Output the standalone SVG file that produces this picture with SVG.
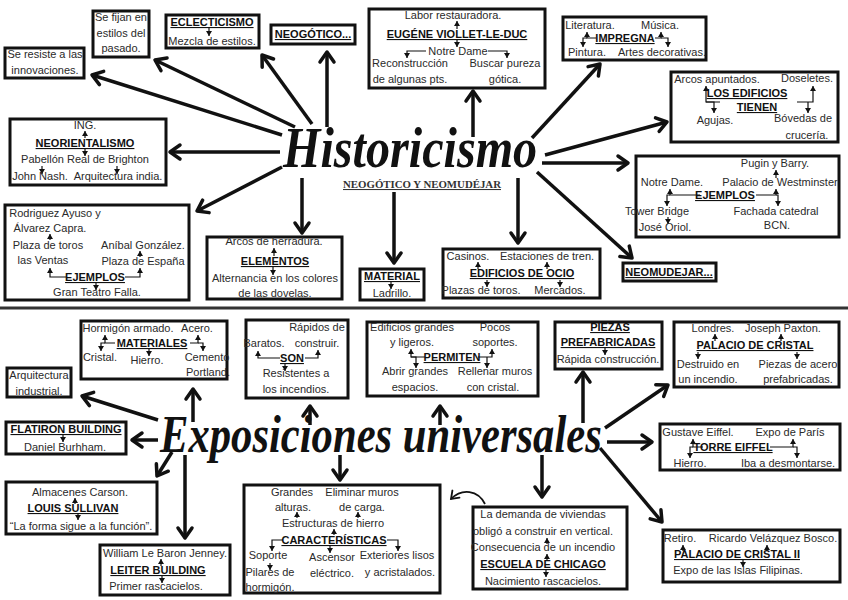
<svg xmlns="http://www.w3.org/2000/svg" width="848" height="600" viewBox="0 0 848 600">
<style>
.box{fill:#fff;stroke:#111;stroke-width:3}
.t{font-family:"Liberation Sans",Arial,sans-serif;font-size:11px;fill:#2a2a2a;text-anchor:middle}
.h{font-weight:bold;text-decoration:underline;fill:#111}
.c{stroke:#111;stroke-width:3.5;fill:none;marker-end:url(#ah)}
.s{stroke:#111;stroke-width:1.2;fill:none;marker-end:url(#sa)}
.title{font-family:"Liberation Serif","DejaVu Serif",serif;font-style:italic;font-weight:bold;fill:#111;text-anchor:start}
</style>
<defs>
<marker id="ah" markerUnits="userSpaceOnUse" viewBox="-14 -10 18 20" refX="0" refY="0" markerWidth="18" markerHeight="20" orient="auto"><path d="M-10,-7 L0,0 L-10,7" fill="none" stroke="#111" stroke-width="3.5" stroke-linecap="round" stroke-linejoin="round"/></marker>
<marker id="sa" markerUnits="userSpaceOnUse" viewBox="-6 -4 7 8" refX="0" refY="0" markerWidth="7" markerHeight="8" orient="auto"><path d="M-5,-3 L0,0 L-5,3z" fill="#111"/></marker>
<marker id="ac" markerUnits="userSpaceOnUse" viewBox="-10 -8 12 16" refX="0" refY="0" markerWidth="12" markerHeight="16" orient="auto"><path d="M-7,-5 L0,0 L-7,5" fill="none" stroke="#111" stroke-width="1.8" stroke-linecap="round"/></marker>
</defs>
<rect width="848" height="600" fill="#fff"/>
<line x1="0" y1="308" x2="848" y2="308" stroke="#333" stroke-width="3"/>

<g id="connectors">
<path class="c" d="M282,135 L92,75"/>
<path class="c" d="M295,127 L155,60"/>
<path class="c" d="M312,124 L262,55"/>
<path class="c" d="M327,127 L327,52"/>
<path class="c" d="M473,137 L473,91"/>
<path class="c" d="M532,138 L600,64"/>
<path class="c" d="M545,155 L667,122"/>
<path class="c" d="M542,163 L628,163"/>
<path class="c" d="M537,172 L632,258"/>
<path class="c" d="M518,178 L518,243"/>
<path class="c" d="M394,192 L394,263"/>
<path class="c" d="M302,178 L302,233"/>
<path class="c" d="M282,167 L197,211"/>
<path class="c" d="M280,152 L170,152"/>

<path class="c" d="M158,420 L82,396"/>
<path class="c" d="M193,422 L193,389"/>
<path class="c" d="M310,425 L310,406"/>
<path class="c" d="M440,425 L440,406"/>
<path class="c" d="M583,423 L583,372"/>
<path class="c" d="M605,428 L668,385"/>
<path class="c" d="M607,442 L652,442"/>
<path class="c" d="M158,440 L132,440"/>
<path class="c" d="M172,452 L157,476"/>
<path class="c" d="M185,455 L185,538"/>
<path class="c" d="M340,455 L340,480"/>
<path class="c" d="M542,455 L542,497"/>
<path class="c" d="M600,448 L662,522"/>
<path d="M485,504 C478,490 462,488 451,499" fill="none" stroke="#111" stroke-width="1.8" marker-end="url(#ac)"/>
</g>

<g id="title-historicismo">
<text class="title" transform="translate(283,167) scale(0.86,1)" x="0" y="0" font-size="56">Historicismo</text>
<text x="422" y="188" font-family="'Liberation Serif',serif" font-weight="bold" font-size="10.5" text-anchor="middle" text-decoration="underline" fill="#333" textLength="158" lengthAdjust="spacingAndGlyphs">NEOGÓTICO Y NEOMUDÉJAR</text>
</g>

<g id="n-resiste"><rect class="box" x="5" y="48" width="79" height="30"/><text class="t" x="45" y="58">Se resiste a las</text><text class="t" x="45" y="74">innovaciones.</text></g>

<g id="n-fijan"><rect class="box" x="93" y="11" width="56" height="46"/><text class="t" x="121" y="21">Se fijan en</text><text class="t" x="121" y="37">estilos del</text><text class="t" x="121" y="52">pasado.</text></g>

<g id="n-eclecticismo"><rect class="box" x="166" y="15" width="93" height="33"/><text class="t h" x="212" y="26">ECLECTICISMO</text><path class="s" d="M209,28 V36"/><text class="t" x="212" y="45">Mezcla de estilos.</text></g>

<g id="n-neogotico"><rect class="box" x="271" y="25" width="84" height="19"/><text class="t h" x="313" y="38">NEOGÓTICO...</text></g>

<g id="n-viollet"><rect class="box" x="369" y="9" width="176" height="79"/>
<text class="t" x="453" y="19">Labor restauradora.</text>
<path class="s" d="M457,29 V21"/>
<text class="t h" x="457" y="38">EUGÉNE VIOLLET-LE-DUC</text>
<path class="s" d="M457,40 V47"/>
<text class="t" x="458" y="55">Notre Dame</text>
<path class="s" d="M426,51 H407 V58"/>
<path class="s" d="M488,51 H507 V58"/>
<text class="t" x="410" y="67">Reconstrucción</text><text class="t" x="410" y="83">de algunas pts.</text>
<text class="t" x="505" y="67">Buscar pureza</text><text class="t" x="505" y="83">gótica.</text>
</g>

<g id="n-impregna"><rect class="box" x="563" y="17" width="143" height="43"/>
<text class="t" x="590" y="29">Literatura.</text><text class="t" x="660" y="29">Música.</text>
<text class="t h" x="625" y="42">IMPREGNA</text>
<path class="s" d="M596,38 H587 V32"/><path class="s" d="M587,38 H583 V47"/>
<path class="s" d="M655,38 H661 V32"/><path class="s" d="M661,38 H668 V47"/>
<text class="t" x="587" y="56">Pintura.</text><text class="t" x="662" y="56">Artes decorativas.</text>
</g>

<g id="n-edificios"><rect class="box" x="671" y="72" width="167" height="70"/>
<text class="t" x="717" y="83">Arcos apuntados.</text><text class="t" x="807" y="82">Doseletes.</text>
<text class="t h" x="747" y="97">LOS EDIFICIOS</text>
<text class="t h" x="757" y="111">TIENEN</text>
<path class="s" d="M720,102 H706 V86"/><path class="s" d="M706,102 H714 V113"/>
<path class="s" d="M797,102 H813 V86"/><path class="s" d="M808,102 V113"/>
<text class="t" x="715" y="124">Agujas.</text><text class="t" x="803" y="122">Bóvedas de</text><text class="t" x="807" y="139">crucería.</text>
</g>

<g id="n-ejemplos-r"><rect class="box" x="636" y="156" width="203" height="81"/>
<text class="t" x="775" y="167">Pugin y Barry.</text>
<path class="s" d="M776,178 V170"/>
<text class="t" x="672" y="186">Notre Dame.</text><text class="t" x="780" y="186">Palacio de Westminster</text>
<text class="t h" x="725" y="199">EJEMPLOS</text>
<path class="s" d="M700,195 H670 V189"/><path class="s" d="M670,195 H667 V206"/>
<path class="s" d="M756,195 H776 V189"/><path class="s" d="M776,195 H778 V206"/>
<text class="t" x="657" y="215">Tower Bridge</text><text class="t" x="776" y="215">Fachada catedral</text>
<path class="s" d="M668,217 V224"/>
<text class="t" x="665" y="231">José Oriol.</text><text class="t" x="777" y="229">BCN.</text>
</g>

<g id="n-neomudejar"><rect class="box" x="623" y="263" width="93" height="18"/><text class="t h" x="669" y="276">NEOMUDEJAR...</text></g>

<g id="n-ocio"><rect class="box" x="443" y="249" width="157" height="49"/>
<text class="t" x="468" y="260">Casinos.</text><text class="t" x="547" y="260">Estaciones de tren.</text>
<path class="s" d="M478,269 V262"/><path class="s" d="M547,269 V262"/>
<text class="t h" x="522" y="277">EDIFICIOS DE OCIO</text>
<path class="s" d="M487,280 V287"/><path class="s" d="M560,280 V287"/>
<text class="t" x="481" y="294">Plazas de toros.</text><text class="t" x="560" y="294">Mercados.</text>
</g>

<g id="n-material"><rect class="box" x="360" y="269" width="64" height="31"/>
<text class="t h" x="392" y="280">MATERIAL</text><path class="s" d="M391,282 V289"/><text class="t" x="392" y="297">Ladrillo.</text></g>

<g id="n-elementos"><rect class="box" x="207" y="237" width="135" height="62"/>
<text class="t" x="274" y="245">Arcos de herradura.</text>
<path class="s" d="M274,256 V248"/>
<text class="t h" x="275" y="265">ELEMENTOS</text>
<path class="s" d="M273,267 V275"/>
<text class="t" x="275" y="282">Alternancia en los colores</text>
<text class="t" x="275" y="297">de las dovelas.</text>
</g>

<g id="n-ejemplos-l"><rect class="box" x="5" y="205" width="184" height="95"/>
<text class="t" x="55" y="217">Rodriguez Ayuso y</text>
<text class="t" x="50" y="232">Álvarez Capra.</text>
<path class="s" d="M50,240 V234"/>
<text class="t" x="48" y="249">Plaza de toros</text><text class="t" x="143" y="249">Aníbal González.</text>
<path class="s" d="M140,257 V251"/>
<text class="t" x="43" y="264">las Ventas</text><text class="t" x="143" y="265">Plaza de España</text>
<path class="s" d="M66,277 H50 V268"/><path class="s" d="M125,277 H140 V268"/>
<text class="t h" x="95" y="281">EJEMPLOS</text>
<path class="s" d="M96,282 V290"/>
<text class="t" x="97" y="296">Gran Teatro Falla.</text>
</g>

<g id="n-neorientalismo"><rect class="box" x="10" y="119" width="156" height="66"/>
<text class="t" x="85" y="129">ING.</text>
<path class="s" d="M85,138 V131"/>
<text class="t h" x="85" y="147">NEORIENTALISMO</text>
<path class="s" d="M85,148 V156"/>
<text class="t" x="85" y="163">Pabellón Real de Brighton</text>
<path class="s" d="M42,166 V174"/><path class="s" d="M117,166 V174"/>
<text class="t" x="40" y="180">John Nash.</text><text class="t" x="118" y="180">Arquitectura india.</text>
</g>

<g id="title-exposiciones">
<text class="title" transform="translate(160,452) scale(0.82,1)" x="0" y="0" font-size="52">Exposiciones universales</text>
</g>

<g id="n-arquitectura"><rect class="box" x="7" y="368" width="64" height="29"/><text class="t" x="39" y="379">Arquitectura</text><text class="t" x="39" y="395">industrial.</text></g>

<g id="n-materiales"><rect class="box" x="81" y="321" width="146" height="58"/>
<text class="t" x="128" y="332">Hormigón armado.</text><text class="t" x="197" y="332">Acero.</text>
<text class="t h" x="152" y="347">MATERIALES</text>
<path class="s" d="M115,343 H105 V335"/><path class="s" d="M105,343 H101 V351"/>
<path class="s" d="M190,343 H198 V335"/><path class="s" d="M198,343 H203 V351"/>
<path class="s" d="M149,349 V356"/>
<text class="t" x="100" y="361">Cristal.</text><text class="t" x="147" y="364">Hierro.</text><text class="t" x="207" y="361">Cemento</text><text class="t" x="208" y="376">Portland.</text>
</g>

<g id="n-son"><rect class="box" x="246" y="320" width="102" height="78"/>
<text class="t" x="317" y="331">Rápidos de</text>
<text class="t" x="264" y="347">Baratos.</text><text class="t" x="317" y="347">construir.</text>
<text class="t h" x="292" y="362">SON</text>
<path class="s" d="M280,358 H258 V351"/><path class="s" d="M305,358 H318 V350"/>
<path class="s" d="M285,364 V371"/>
<text class="t" x="296" y="377">Resistentes a</text>
<text class="t" x="296" y="393">los incendios.</text>
</g>

<g id="n-permiten"><rect class="box" x="367" y="322" width="171" height="74"/>
<text class="t" x="412" y="331">Edificios grandes</text><text class="t" x="495" y="331">Pocos</text>
<text class="t" x="412" y="346">y ligeros.</text><text class="t" x="495" y="346">soportes.</text>
<text class="t h" x="452" y="361">PERMITEN</text>
<path class="s" d="M425,357 H411 V349"/><path class="s" d="M411,357 H416 V368"/>
<path class="s" d="M478,357 H492 V349"/><path class="s" d="M487,357 V368"/>
<text class="t" x="415" y="375">Abrir grandes</text><text class="t" x="495" y="375">Rellenar muros</text>
<text class="t" x="415" y="391">espacios.</text><text class="t" x="493" y="391">con cristal.</text>
</g>

<g id="n-piezas"><rect class="box" x="555" y="322" width="107" height="47"/>
<text class="t h" x="610" y="331">PIEZAS</text>
<text class="t h" x="608" y="346">PREFABRICADAS</text>
<path class="s" d="M605,348 V355"/>
<text class="t" x="608" y="363">Rápida construcción.</text>
</g>

<g id="n-palacio"><rect class="box" x="674" y="322" width="165" height="65"/>
<text class="t" x="713" y="332">Londres.</text><text class="t" x="783" y="332">Joseph Paxton.</text>
<path class="s" d="M715,341 V334"/><path class="s" d="M781,341 V334"/>
<text class="t h" x="755" y="349">PALACIO DE CRISTAL</text>
<path class="s" d="M698,352 V359"/><path class="s" d="M797,352 V359"/>
<text class="t" x="708" y="368">Destruido en</text><text class="t" x="798" y="368">Piezas de acero</text>
<text class="t" x="708" y="383">un incendio.</text><text class="t" x="798" y="383">prefabricadas.</text>
</g>

<g id="n-eiffel"><rect class="box" x="660" y="424" width="180" height="46"/>
<text class="t" x="698" y="436">Gustave Eiffel.</text><text class="t" x="790" y="436">Expo de París</text>
<text class="t h" x="733" y="451">TORRE EIFFEL</text>
<path class="s" d="M703,447 H693 V439"/><path class="s" d="M693,447 H690 V458"/>
<path class="s" d="M770,447 H793 V439"/><path class="s" d="M793,447 H797 V458"/>
<text class="t" x="690" y="467">Hierro.</text><text class="t" x="788" y="467">Iba a desmontarse.</text>
</g>

<g id="n-flatiron"><rect class="box" x="6" y="422" width="120" height="32"/>
<text class="t h" x="66" y="433">FLATIRON BUILDING</text>
<path class="s" d="M63,435 V442"/>
<text class="t" x="65" y="451">Daniel Burhham.</text>
</g>

<g id="n-sullivan"><rect class="box" x="6" y="482" width="151" height="52"/>
<text class="t" x="80" y="496">Almacenes Carson.</text>
<path class="s" d="M75,504 V498"/>
<text class="t h" x="73" y="512">LOUIS SULLIVAN</text>
<path class="s" d="M78,513 V520"/>
<text class="t" x="81" y="530">“La forma sigue a la función”.</text>
</g>

<g id="n-leiter"><rect class="box" x="100" y="545" width="130" height="50"/>
<text class="t" x="165" y="557">William Le Baron Jenney.</text>
<path class="s" d="M161,566 V559"/>
<text class="t h" x="158" y="574">LEITER BUILDING</text>
<path class="s" d="M162,576 V583"/>
<text class="t" x="156" y="590">Primer rascacielos.</text>
</g>

<g id="n-caracteristicas"><rect class="box" x="244" y="485" width="196" height="108"/>
<text class="t" x="292" y="496">Grandes</text><text class="t" x="362" y="496">Eliminar muros</text>
<text class="t" x="293" y="511">alturas.</text><text class="t" x="362" y="511">de carga.</text>
<path class="s" d="M297,518 V512"/><path class="s" d="M358,518 V512"/>
<text class="t" x="333" y="527">Estructuras de hierro</text>
<path class="s" d="M334,535 V529"/>
<text class="t h" x="334" y="544">CARACTERÍSTICAS</text>
<path class="s" d="M283,540 H272 V551"/><path class="s" d="M387,540 H398 V551"/>
<path class="s" d="M330,546 V553"/>
<text class="t" x="268" y="559">Soporte</text><text class="t" x="332" y="561">Ascensor</text><text class="t" x="397" y="559">Exteriores lisos</text>
<path class="s" d="M270,563 V570"/>
<text class="t" x="270" y="576">Pilares de</text><text class="t" x="332" y="577">eléctrico.</text><text class="t" x="400" y="576">y acristalados.</text>
<text class="t" x="270" y="591">hormigón.</text>
</g>

<g id="n-chicago"><rect class="box" x="473" y="507" width="154" height="82"/>
<text class="t" x="543" y="518">La demanda de viviendas</text>
<text class="t" x="543" y="535">obligó a construir en vertical.</text>
<path class="s" d="M547,544 V538"/>
<text class="t" x="543" y="551">Consecuencia de un incendio</text>
<path class="s" d="M547,560 V554"/>
<text class="t h" x="543" y="568">ESCUELA DE CHICAGO</text>
<path class="s" d="M546,570 V577"/>
<text class="t" x="543" y="585">Nacimiento rascacielos.</text>
</g>

<g id="n-palacio2"><rect class="box" x="663" y="530" width="177" height="52"/>
<text class="t" x="680" y="542">Retiro.</text><text class="t" x="773" y="542">Ricardo Velázquez Bosco.</text>
<path class="s" d="M683,551 V545"/><path class="s" d="M767,551 V545"/>
<text class="t h" x="737" y="558">PALACIO DE CRISTAL II</text>
<path class="s" d="M743,560 V567"/>
<text class="t" x="738" y="574">Expo de las Islas Filipinas.</text>
</g>
</svg>
